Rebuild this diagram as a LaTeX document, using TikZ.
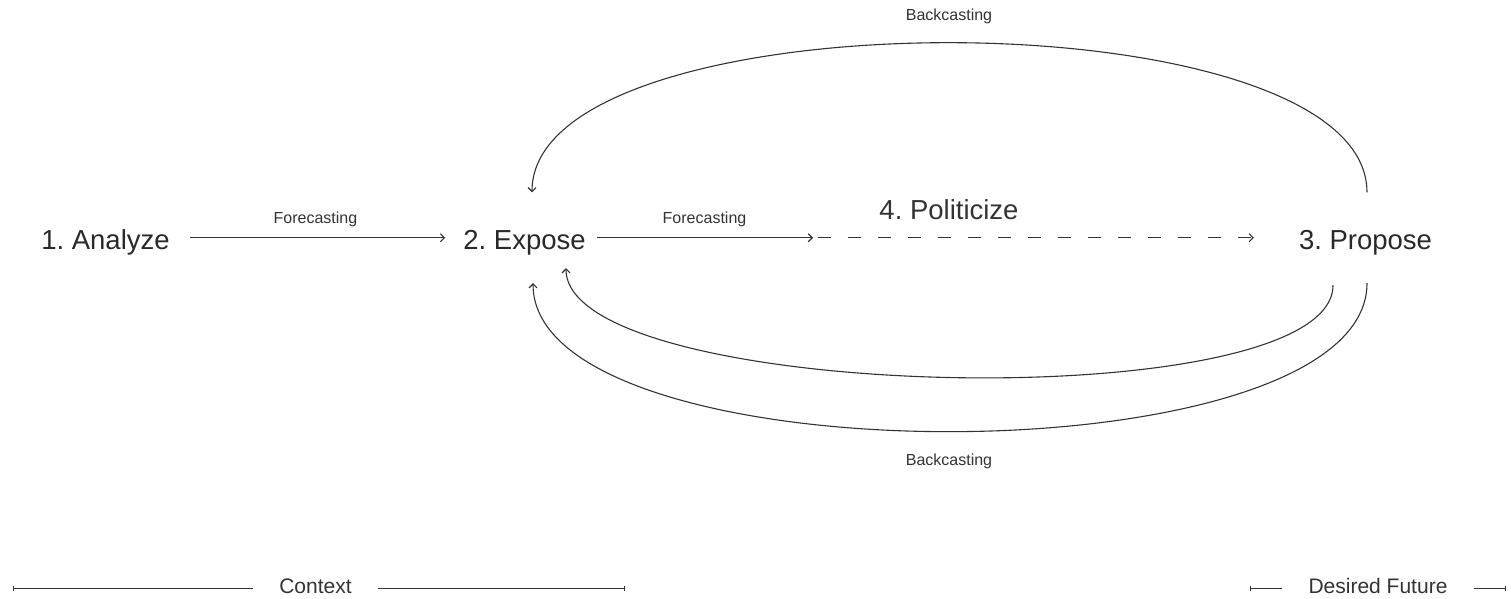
\documentclass[tikz,border=0pt]{standalone}
\usepackage{fontspec}
\setmainfont{Liberation Sans}
\usepackage{tikz}
\usetikzlibrary{arrows.meta}
\definecolor{ink}{HTML}{333333}
\frenchspacing

\begin{document}
\begin{tikzpicture}[x=1pt,y=1pt]
	\tikzstyle{stage}=[inner sep=0pt,anchor=base,text height=56.5pt,text depth=34pt,font=\fontsize{27.5}{33}\selectfont,text=ink!80!black]
	\tikzstyle{tag}=[inner sep=0pt,anchor=base,font=\fontsize{16}{19}\selectfont,text=ink]
	\tikzstyle{era}=[inner ysep=0pt,inner xsep=26pt,anchor=base,font=\fontsize{21}{25}\selectfont,text=ink]
	\tikzstyle{flow}=[draw=ink,line width=1.1pt,-{Straight Barb[length=4pt,width=8pt]}]
	\tikzstyle{ruler}=[draw=ink,line width=1.1pt]
	\useasboundingbox (0,0) rectangle (1511,598);
	% stages
	\node[stage](s1) at (105.5,349) {1. Analyze};
	\node[stage](s2) at (524.5,349) {2. Expose};
	\node[stage](s3) at (1365.5,349) {3. Propose};
	\node[tag,font=\fontsize{27.5}{33}\selectfont](s4) at (949,378.7) {4. Politicize};
	\coordinate (fc) at (813,360.25);
	% labels
	\node[tag](f1) at (315.5,374) {Forecasting};
	\node[tag](f2) at (704.5,374) {Forecasting};
	\node[tag](b1) at (949,577) {Backcasting};
	\node[tag](b2) at (949,133) {Backcasting};
	% forecasting
	\draw[flow,shorten <=20pt,shorten >=18pt](s1) -- (s2);
	\draw[flow,shorten <=11pt](s2) -- (fc);
	\draw[flow,dash pattern=on 13pt off 17pt,shorten <=5pt,shorten >=45pt](fc) -- (s3);
	% backcasting
	\draw[flow]([xshift=1.5pt]s3.north) to[out=90,in=90,looseness=0.612] ([xshift=7.5pt]s2.north);
	\draw[flow]([xshift=1.5pt]s3.south) to[out=-90,in=-90,looseness=0.608] ([xshift=8.5pt]s2.south);
	\draw[flow]([xshift=-32.5pt,yshift=-2pt]s3.south) to[out=-90,in=-90,looseness=0.447] ([xshift=41.5pt,yshift=15pt]s2.south);
	% time spans
	\node[era](ctx) at (315.5,4.7) {Context};
	\node[era](fut) at (1378,4.7) {Desired Future};
	\coordinate (c1) at (13,9.7);
	\coordinate (c2) at (625,9.7);
	\coordinate (d1) at (1250,9.7);
	\coordinate (d2) at (1506,9.7);
	\draw[ruler,{Bar[width=5pt]}-](c1) -- (ctx.west |- c1);
	\draw[ruler,-{Bar[width=5pt]}](ctx.east |- c2) -- (c2);
	\draw[ruler,{Bar[width=5pt]}-](d1) -- (fut.west |- d1);
	\draw[ruler,-{Bar[width=5pt]}](fut.east |- d2) -- (d2);
\end{tikzpicture}
\end{document}
